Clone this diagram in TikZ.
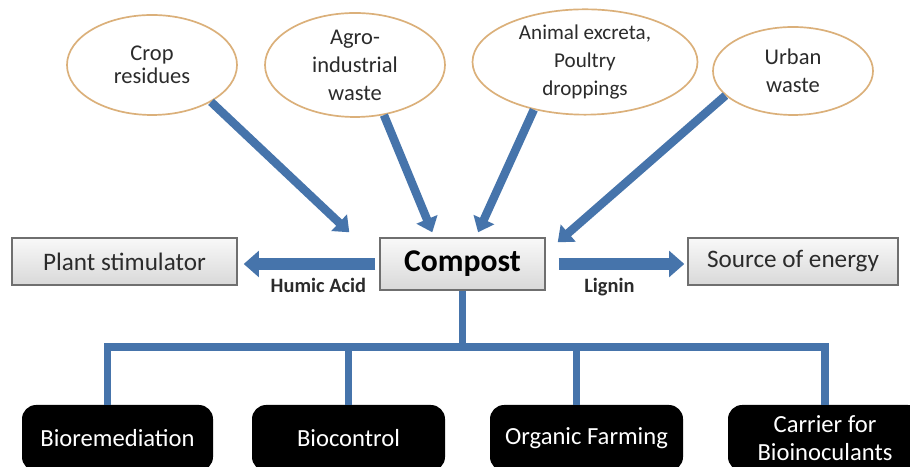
\documentclass[tikz,border=0pt]{standalone}
\usepackage{fontspec}
\setmainfont{Carlito}
\usetikzlibrary{arrows.meta, shapes.geometric, calc}
\definecolor{flowblue}{HTML}{4674AB}
\definecolor{rimtan}{HTML}{DBB07A}
\definecolor{boxedge}{HTML}{6F6F6F}
\definecolor{inkgray}{HTML}{2B2B2B}

\begin{document}
\begin{tikzpicture}[
  source/.style={ellipse, draw=rimtan, fill=white, line width=1.2pt, align=center,
    text=inkgray, inner sep=0pt, font=\fontsize{16}{20}\selectfont},
  usebox/.style={draw=boxedge, line width=1pt, top color=gray!5, bottom color=gray!30,
    text=inkgray, inner sep=0pt, minimum height=1.175cm, font=\fontsize{17.9}{21}\selectfont},
  appbox/.style={fill=black, rounded corners=10pt, text=white, align=center, inner sep=0pt,
    minimum width=4.8cm, minimum height=1.65cm, font=\fontsize{17.5}{20}\selectfont},
  feed/.style={flowblue, line width=6pt, -{Triangle[width=0.55cm, length=0.35cm]}},
  yield/.style={flowblue, line width=9pt, -{Triangle[width=0.64cm, length=0.38cm]}},
  branch/.style={flowblue, line width=5pt},
  tag/.style={text=inkgray, font=\fontsize{14.5}{17}\selectfont\bfseries}
]

% Canvas
\useasboundingbox (0,0) rectangle (22.75,11.675);
\clip (0,0) rectangle (22.75,11.675);
\fill[white] (0,0) rectangle (22.75,11.675);

% Sources (top row)
\node[source, minimum width=4.25cm, minimum height=2.5cm] (crop) at (3.8,10.05) {\raisebox{-4pt}{\shortstack{Crop\\residues}}};
\node[source, minimum width=4.5cm, minimum height=2.6cm] (agro) at (8.875,10.05) {Agro-\\industrial\\waste};
\node[source, minimum width=5.625cm, minimum height=2.625cm, font=\fontsize{15}{20}\selectfont] (animal) at (14.625,10.125) {Animal excreta,\\Poultry\\droppings};
\node[source, minimum width=4.0cm, minimum height=2.2cm] (urban) at (19.825,9.9) {Urban\\waste};

% Middle row
\node[usebox, minimum width=4.125cm, minimum height=1.3cm, font=\fontsize{22.5}{26}\selectfont\bfseries, text=black] (compost) at (11.5625,5.075) {Compost};
\node[usebox, minimum width=5.625cm] (plant) at (3.1125,5.1375) {Plant stimulator};
\node[usebox, minimum width=5.25cm] (energy) at (19.825,5.1375) {Source of energy};

% Sources -> Compost
\draw[feed] (crop.-32) -- ($(compost.north west)+(-0.75,0.125)$);
\draw[feed] (agro.-60) -- ($(compost.north west)+(1.325,0.125)$);
\draw[feed] (animal.-137) -- ($(compost.north)+(0.39,0.125)$);
\draw[feed] (urban.-160) -- ($(compost.north east)+(0.3,-0.125)$);

% Compost -> products
\draw[yield, shorten <=0.1cm, shorten >=0.15cm] (compost.west) -- (compost.west -| plant.east)
  node[tag, pos=0.43, below=0.08cm] (humic) {Humic Acid};
\draw[yield, shorten <=0.325cm, shorten >=0.075cm] (compost.east) -- (compost.east -| energy.west)
  node[tag, pos=0.45, below=0.08cm] (lignin) {Lignin};

% Applications (bottom row)
\node[appbox, minimum width=4.775cm] (biorem) at (2.9375,0.725) {Bioremediation};
\node[appbox, minimum width=4.825cm] (bioctrl) at (8.7125,0.725) {Biocontrol};
\node[appbox, minimum width=4.825cm] (organic) at (14.6625,0.725) {Organic Farming};
\node[appbox, minimum width=4.85cm] (carrier) at (20.625,0.725) {Carrier for\\Bioinoculants};

% Tree from Compost
\coordinate (bus) at (0,3.0);
\draw[branch] (compost.south) -- (compost.south |- bus);
\draw[branch] ([xshift=-0.24cm]biorem.north) -- ([xshift=-0.24cm]biorem.north |- bus) -| (carrier.north);
\draw[branch] (bioctrl.north |- bus) -- (bioctrl.north);
\draw[branch] ([xshift=-0.24cm]organic.north |- bus) -- ([xshift=-0.24cm]organic.north);

\end{tikzpicture}
\end{document}
